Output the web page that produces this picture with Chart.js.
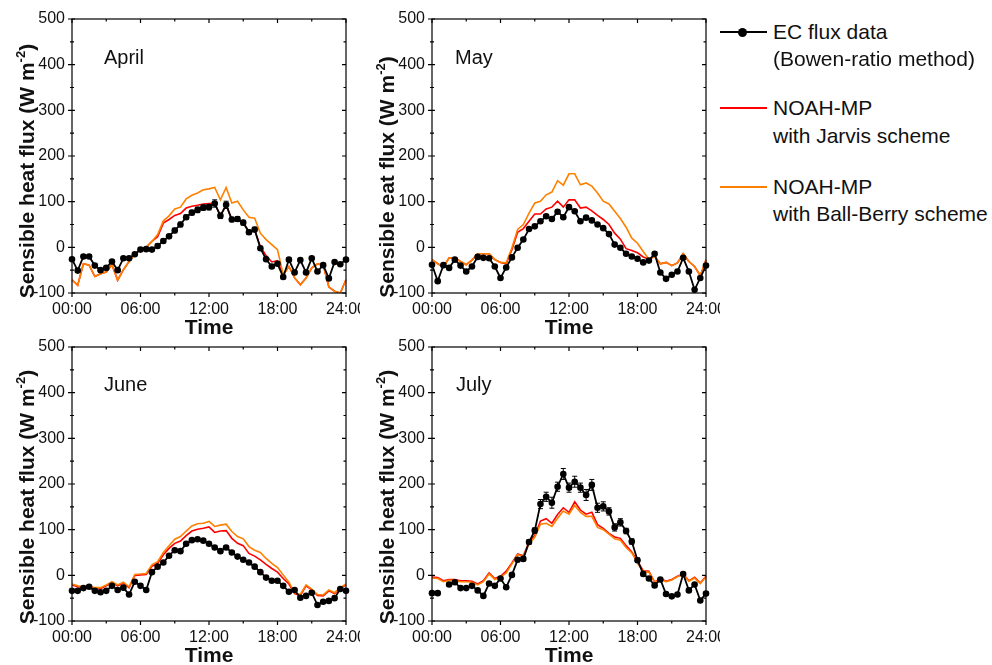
<!DOCTYPE html>
<html>
<head>
<meta charset="utf-8">
<script src="https://cdn.jsdelivr.net/npm/chart.js@4.4.1/dist/chart.umd.min.js"></script>
<style>
  body { margin: 0; background: #fff; width: 992px; height: 665px; position: relative; overflow: hidden;
         font-family: "Liberation Sans", Arial, sans-serif; color: #111; }
  canvas { position: absolute; }
  .ytitle { position: absolute; font-weight: bold; font-size: 21px; white-space: nowrap;
            transform: translate(-50%, -50%) rotate(-90deg); }
  .ytitle sup { font-size: 13px; vertical-align: 0; position: relative; top: -9px; }
  .xtitle { position: absolute; font-weight: bold; font-size: 21px; transform: translate(-50%, -50%); }
  .month { position: absolute; font-size: 20px; transform: translateY(-50%); }
  .leg { position: absolute; left: 773px; font-size: 21px; white-space: nowrap; transform: translateY(-50%); }
  .legline { position: absolute; left: 720px; width: 47px; height: 2px; }
</style>
</head>
<body>
<canvas id="apr" width="360" height="330" style="left:0;top:0"></canvas>
<canvas id="may" width="360" height="330" style="left:360px;top:0"></canvas>
<canvas id="jun" width="360" height="330" style="left:0;top:328px"></canvas>
<canvas id="jul" width="360" height="330" style="left:360px;top:328px"></canvas>

<div class="ytitle" style="left:27px;top:171px">Sensible heat flux (W m<sup>-2</sup>)</div>
<div class="ytitle" style="left:387px;top:177px">Sensible eat flux (W m<sup>-2</sup>)</div>
<div class="ytitle" style="left:27px;top:497px">Sensible heat flux (W m<sup>-2</sup>)</div>
<div class="ytitle" style="left:387px;top:497px">Sensible heat flux (W m<sup>-2</sup>)</div>

<div class="xtitle" style="left:209px;top:327px">Time</div>
<div class="xtitle" style="left:569px;top:327px">Time</div>
<div class="xtitle" style="left:209px;top:655px">Time</div>
<div class="xtitle" style="left:569px;top:655px">Time</div>

<div class="month" style="left:104px;top:57px">April</div>
<div class="month" style="left:455px;top:57px">May</div>
<div class="month" style="left:104px;top:384px">June</div>
<div class="month" style="left:456px;top:384px">July</div>

<div class="legline" style="top:31px;background:#000"></div>
<div style="position:absolute;left:738px;top:28px;width:9px;height:9px;border-radius:50%;background:#000"></div>
<div class="leg" style="top:32px">EC flux data</div>
<div class="leg" style="top:59px">(Bowen-ratio method)</div>
<div class="legline" style="top:107px;background:#ff0000"></div>
<div class="leg" style="top:108px">NOAH-MP</div>
<div class="leg" style="top:136px">with Jarvis scheme</div>
<div class="legline" style="top:186px;background:#ff8000"></div>
<div class="leg" style="top:187px">NOAH-MP</div>
<div class="leg" style="top:214px">with Ball-Berry scheme</div>

<script>
/* global Chart */
const times = ["00:00","00:30","01:00","01:30","02:00","02:30","03:00","03:30","04:00","04:30",
  "05:00","05:30","06:00","06:30","07:00","07:30","08:00","08:30","09:00","09:30",
  "10:00","10:30","11:00","11:30","12:00","12:30","13:00","13:30","14:00","14:30",
  "15:00","15:30","16:00","16:30","17:00","17:30","18:00","18:30","19:00","19:30",
  "20:00","20:30","21:00","21:30","22:00","22:30","23:00","23:30","24:00"];

// EC flux data (Bowen-ratio method)
const ecApr = [-26,-51,-20,-20,-40,-50,-45,-31,-50,-24,-24,-15,-5,-4,-5,3,14,24,37,50,66,76,82,87,88,96,69,93,61,62,54,33,39,-2,-26,-42,-36,-65,-27,-55,-28,-55,-24,-53,-39,-68,-32,-37,-27];
const ecMay = [-38,-74,-39,-45,-27,-40,-53,-42,-21,-23,-24,-42,-67,-44,-22,-1,17,40,46,57,68,62,78,66,88,79,57,65,59,50,42,29,6,-1,-14,-20,-25,-33,-29,-14,-55,-69,-60,-53,-23,-53,-93,-67,-40];
const ecJun = [-34,-34,-28,-25,-34,-37,-34,-23,-32,-27,-42,-14,-23,-32,7,19,28,43,55,53,69,77,79,76,69,61,53,61,50,41,34,28,19,7,-5,-12,-12,-23,-36,-32,-49,-45,-38,-65,-58,-56,-50,-30,-34];
const ecJul = [-39,-39,null,-20,-15,-28,-28,-23,-33,-45,-18,-23,-7,-26,1,34,36,73,98,156,172,159,194,222,192,205,192,176,198,148,151,140,105,116,97,74,33,3,-7,-22,-9,-41,-46,-42,3,-33,-20,-55,-40];

// error bars on the EC data
const errApr = [3,3,3,3,3,3,3,3,3,3,3,3,3,3,3,4,4,4,5,5,5,5,6,6,6,8,6,8,5,5,5,5,5,4,4,4,4,4,3,3,3,3,3,3,3,3,3,3,3];
const errMay = [2,2,2,2,2,2,2,2,2,2,2,2,2,2,2,3,3,3,3,3,3,3,3,3,3,3,3,3,3,3,3,3,3,2,2,2,2,2,2,2,2,2,2,2,2,2,2,2,2];
const errJun = [2,2,2,2,2,2,2,2,2,2,2,2,2,2,2,3,3,3,3,3,3,3,3,3,3,3,3,3,3,3,3,3,3,2,2,2,2,2,2,2,2,2,2,2,2,2,2,2,2];
const errJul = [3,3,0,3,3,3,3,3,3,3,3,3,3,3,3,4,4,5,6,10,10,12,10,12,10,12,10,12,12,10,10,8,8,8,6,6,5,4,4,3,3,3,3,3,3,3,3,3,3];

// NOAH-MP with Jarvis scheme
const jvApr = [-71,-83,-36,-39,-64,-58,-54,-38,-72,-49,-31,-15,-5,0,13,23,53,61,70,74,86,90,92,95,96,96,69,93,61,62,54,35,37,2,-18,-32,-29,-60,-42,-67,-82,-67,-45,-36,-38,-87,-96,-100,-71];
const jvMay = [-27,-36,-43,-23,-23,-31,-38,-28,-14,-14,-14,-27,-33,-36,-5,33,41,57,73,73,84,88,101,88,104,104,86,88,80,70,61,50,31,18,-3,-7,-12,-21,-26,-20,-36,-33,-40,-34,-14,-31,-42,-62,-27];
const jvJun = [-21,-25,-27,-25,-29,-29,-23,-16,-23,-17,-27,0,1,2,20,26,45,59,70,75,87,97,101,103,106,94,97,98,81,70,65,48,42,34,24,15,7,-7,-19,-40,-44,-23,-32,-44,-45,-34,-40,-29,-21];
const jvJul = [-4,-5,-12,-9,-9,-12,-12,-13,-19,-12,5,-7,-2,9,27,47,43,73,87,119,124,114,133,148,138,161,143,134,138,111,103,92,84,81,65,51,31,10,9,-15,-7,-13,-9,-2,3,-12,-4,-17,-2];

// NOAH-MP with Ball-Berry scheme
const bbApr = [-71,-83,-36,-39,-64,-58,-54,-38,-72,-49,-31,-15,-5,0,13,28,58,69,84,88,106,114,119,126,128,131,104,131,97,101,82,66,64,31,17,6,-5,-60,-42,-67,-82,-67,-45,-36,-38,-87,-96,-100,-71];
const bbMay = [-27,-36,-43,-23,-23,-31,-38,-28,-14,-14,-14,-27,-33,-34,-1,39,50,75,97,101,115,121,146,136,161,161,137,141,134,119,101,95,79,63,44,20,9,-9,-26,-20,-36,-33,-40,-34,-14,-31,-42,-62,-27];
const bbJun = [-19,-23,-25,-23,-27,-27,-21,-14,-21,-15,-25,2,3,4,23,30,50,65,79,85,97,108,113,114,118,107,110,112,96,85,80,63,55,50,37,26,17,1,-15,-38,-42,-21,-30,-42,-43,-32,-38,-27,-19];
const bbJul = [-6,-7,-14,-11,-11,-14,-14,-15,-21,-14,3,-9,-4,5,25,45,41,69,83,112,114,107,125,141,134,153,138,129,129,105,100,90,80,77,61,49,27,8,7,-16,-8,-14,-10,-3,2,-13,-6,-18,-3];

const FONT = '"Liberation Sans", Arial, sans-serif';

// box round the plot with the little Origin-style ticks
const frame = {
  id: "frame",
  afterDraw(chart) {
    const { ctx, chartArea: a } = chart;
    const x = chart.scales.x, y = chart.scales.y;
    ctx.save();
    ctx.strokeStyle = "#000";
    ctx.lineWidth = 1.2;
    ctx.strokeRect(a.left, a.top, a.right - a.left, a.bottom - a.top);
    ctx.beginPath();
    const yt = y.ticks.map((t) => t.value);
    yt.forEach((v, i) => {
      const p = y.getPixelForValue(v);
      ctx.moveTo(a.left - 4, p); ctx.lineTo(a.left + 3, p);
      ctx.moveTo(a.right - 4, p); ctx.lineTo(a.right, p);
      if (i < yt.length - 1) {
        const m = y.getPixelForValue((v + yt[i + 1]) / 2);
        ctx.moveTo(a.left - 2, m); ctx.lineTo(a.left + 2, m);
        ctx.moveTo(a.right - 2.5, m); ctx.lineTo(a.right, m);
      }
    });
    times.forEach((t, i) => {
      const h = parseInt(t, 10);
      if (t.slice(3) !== "00" || h % 3) return;
      const p = x.getPixelForValue(i);
      const len = h % 6 ? 2.5 : 4;
      ctx.moveTo(p, a.bottom); ctx.lineTo(p, a.bottom + len);
      ctx.moveTo(p, a.top); ctx.lineTo(p, a.top + len);
    });
    ctx.stroke();
    ctx.restore();
  },
};

const errbars = {
  id: "errbars",
  afterDatasetsDraw(chart, args, opts) {
    const err = opts.err;
    if (!err) return;
    const { ctx } = chart;
    const y = chart.scales.y;
    const data = chart.data.datasets[0].data;
    const meta = chart.getDatasetMeta(0);
    ctx.save();
    ctx.strokeStyle = "#000";
    ctx.lineWidth = 1;
    ctx.beginPath();
    meta.data.forEach((pt, i) => {
      const v = data[i];
      if (v == null || !err[i]) return;
      const y1 = y.getPixelForValue(v + err[i]);
      const y2 = y.getPixelForValue(v - err[i]);
      ctx.moveTo(pt.x, y1); ctx.lineTo(pt.x, y2);
      ctx.moveTo(pt.x - 2.5, y1); ctx.lineTo(pt.x + 2.5, y1);
      ctx.moveTo(pt.x - 2.5, y2); ctx.lineTo(pt.x + 2.5, y2);
    });
    ctx.stroke();
    ctx.restore();
  },
};

function panel(id, ec, jv, bb, err) {
  return new Chart(document.getElementById(id), {
    type: "line",
    data: {
      labels: times,
      datasets: [
        { label: "EC flux data", data: ec, borderColor: "#000", backgroundColor: "#000",
          borderWidth: 1.8, pointRadius: 3.3, pointBorderWidth: 0, pointBackgroundColor: "#000", order: 0 },
        { label: "NOAH-MP with Ball-Berry scheme", data: bb, borderColor: "#ff8000",
          borderWidth: 1.6, pointRadius: 0, order: 1 },
        { label: "NOAH-MP with Jarvis scheme", data: jv, borderColor: "#ff0000",
          borderWidth: 1.6, pointRadius: 0, order: 2 },
      ],
    },
    options: {
      responsive: false,
      animation: false,
      events: [],
      layout: { padding: { top: 19, right: 14, left: 0, bottom: 0 } },
      plugins: { legend: { display: false }, tooltip: { enabled: false }, errbars: { err } },
      scales: {
        x: {
          type: "category",
          offset: false,
          grid: { display: false, drawTicks: false },
          border: { display: false },
          ticks: {
            autoSkip: false, maxRotation: 0, padding: 7, color: "#111",
            font: { size: 16, family: FONT },
            callback: (v, i) => (i % 12 === 0 ? times[i] : ""),
          },
          afterFit(s) { s.height = 37; s.paddingLeft = 0; s.paddingRight = 0; },
        },
        y: {
          min: -100, max: 500,
          grid: { display: false, drawTicks: false },
          border: { display: false },
          ticks: { stepSize: 100, padding: 7, color: "#111", font: { size: 16, family: FONT } },
          afterFit(s) { s.width = 72; s.paddingTop = 0; s.paddingBottom = 0; },
        },
      },
    },
    plugins: [frame, errbars],
  });
}

panel("apr", ecApr, jvApr, bbApr, errApr);
panel("may", ecMay, jvMay, bbMay, errMay);
panel("jun", ecJun, jvJun, bbJun, errJun);
panel("jul", ecJul, jvJul, bbJul, errJul);
</script>
</body>
</html>
